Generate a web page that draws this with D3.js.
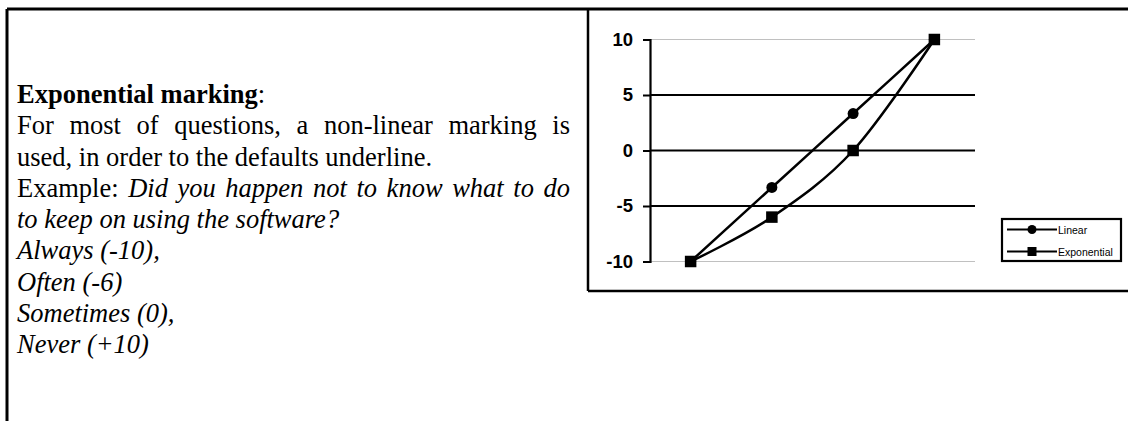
<!DOCTYPE html>
<html>
<head>
<meta charset="utf-8">
<script src="https://cdn.jsdelivr.net/npm/d3@7"></script>
<style>
  body { margin: 0; background: #fff; }
  #page { position: relative; width: 1128px; height: 421px; overflow: hidden; }
  #text {
    position: absolute; left: 17px; top: 79px; width: 553px;
    font-family: "Liberation Serif", "Times New Roman", serif;
    font-size: 26.5px; line-height: 31.3px; color: #000;
  }
  #text .j { text-align: justify; text-align-last: justify; }
  #chart { position: absolute; left: 0; top: 0; }
</style>
</head>
<body>
<div id="page">
  <div id="text">
    <div><b>Exponential marking</b>:</div>
    <div class="j">For most of questions, a non-linear marking is</div>
    <div>used, in order to the defaults underline.</div>
    <div class="j">Example: <i>Did you happen not to know what to do</i></div>
    <div><i>to keep on using the software?</i></div>
    <div><i>Always (-10),</i></div>
    <div><i>Often (-6)</i></div>
    <div><i>Sometimes (0),</i></div>
    <div><i>Never (+10)</i></div>
  </div>
  <svg id="chart" width="1128" height="421"></svg>
</div>
<script>
// data
var categories = ["Always", "Often", "Sometimes", "Never"];
var linearValues = [-10, -3.33, 3.33, 10];
var exponentialValues = [-10, -6, 0, 10];
var yTicks = [-10, -5, 0, 5, 10];
var seriesNames = ["Linear", "Exponential"];

var svg = d3.select("#chart");

// page borders
svg.append("line").attr("x1", 7).attr("y1", 9).attr("x2", 1128).attr("y2", 9)
    .attr("stroke", "#000").attr("stroke-width", 3);
svg.append("line").attr("x1", 7).attr("y1", 9).attr("x2", 7).attr("y2", 421)
    .attr("stroke", "#000").attr("stroke-width", 3);

// chart box
svg.append("line").attr("x1", 588).attr("y1", 9).attr("x2", 588).attr("y2", 291)
    .attr("stroke", "#000").attr("stroke-width", 2.5);
svg.append("line").attr("x1", 588).attr("y1", 291).attr("x2", 1128).attr("y2", 291)
    .attr("stroke", "#000").attr("stroke-width", 2.5);

var x = d3.scalePoint().domain(categories).range([650, 975]).padding(0.5);
var y = d3.scaleLinear().domain([-10, 10]).range([261.5, 39.5]);

// gridlines
svg.append("g").selectAll("line")
    .data(yTicks)
    .enter().append("line")
    .attr("x1", 650).attr("x2", 975)
    .attr("y1", function (d) { return y(d); })
    .attr("y2", function (d) { return y(d); })
    .attr("stroke", function (d) { return Math.abs(d) == 10 ? "#c0c0c0" : "#000"; })
    .attr("stroke-width", function (d) { return Math.abs(d) == 10 ? 1.2 : 2.2; });

// y axis
var axis = svg.append("g")
    .attr("transform", "translate(650,0)")
    .call(d3.axisLeft(y).tickValues(yTicks).tickSize(7).tickPadding(10)
        .tickFormat(function (d) { return String(d); }));
axis.select(".domain").attr("stroke-width", 2.2);
axis.selectAll(".tick line").attr("stroke-width", 2);
axis.selectAll("text")
    .attr("font-family", "Liberation Sans, Arial, sans-serif")
    .attr("font-weight", "bold")
    .attr("font-size", "18.5px")
    .attr("fill", "#000");

// series
var line = d3.line()
    .x(function (d, i) { return x(categories[i]); })
    .y(function (d) { return y(d); })
    .curve(d3.curveCardinal.tension(0));

svg.append("path").datum(linearValues).attr("d", line)
    .attr("fill", "none").attr("stroke", "#000").attr("stroke-width", 2.5);
svg.append("path").datum(exponentialValues).attr("d", line)
    .attr("fill", "none").attr("stroke", "#000").attr("stroke-width", 2.5);

svg.append("g").selectAll("circle")
    .data(linearValues)
    .enter().append("circle")
    .attr("cx", function (d, i) { return x(categories[i]); })
    .attr("cy", function (d) { return y(d); })
    .attr("r", 5.5)
    .attr("fill", "#000");

svg.append("g").selectAll("rect")
    .data(exponentialValues)
    .enter().append("rect")
    .attr("x", function (d, i) { return x(categories[i]) - 5.75; })
    .attr("y", function (d) { return y(d) - 5.75; })
    .attr("width", 11.5).attr("height", 11.5)
    .attr("fill", "#000");

// legend
var legend = svg.append("g").attr("transform", "translate(1002,219)");
legend.append("rect").attr("x", 0).attr("y", 0).attr("width", 119).attr("height", 42)
    .attr("fill", "#fff").attr("stroke", "#000").attr("stroke-width", 2.2);

var rows = legend.selectAll(".row")
    .data(seriesNames)
    .enter().append("g")
    .attr("class", "row")
    .attr("transform", function (d, i) { return "translate(0," + (10.5 + i * 22) + ")"; });

rows.append("line").attr("x1", 5).attr("x2", 55).attr("y1", 0).attr("y2", 0)
    .attr("stroke", "#000").attr("stroke-width", 2);
rows.each(function (d, i) {
    var g = d3.select(this);
    if (i == 0)
        g.append("circle").attr("cx", 30).attr("cy", 0).attr("r", 4.5).attr("fill", "#000");
    else
        g.append("rect").attr("x", 25.5).attr("y", -4.5).attr("width", 9).attr("height", 9).attr("fill", "#000");
});
rows.append("text")
    .attr("x", 56).attr("y", 4)
    .attr("font-family", "Liberation Sans, Arial, sans-serif")
    .attr("font-size", "10.5px")
    .text(function (d) { return d; });
</script>
</body>
</html>
